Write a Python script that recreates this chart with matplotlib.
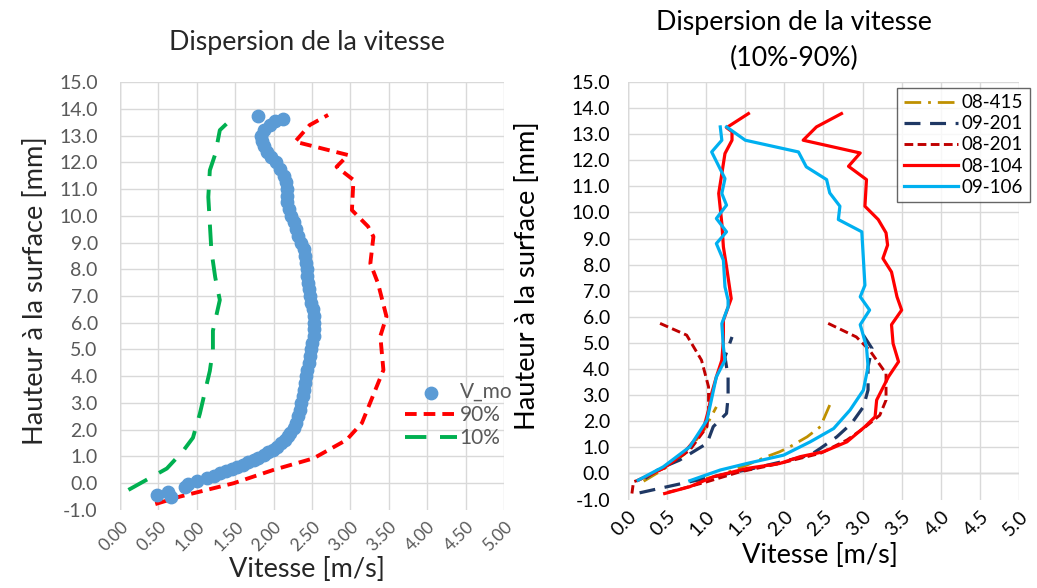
import numpy as np
import matplotlib
matplotlib.use("Agg")
import matplotlib.pyplot as plt

plt.rcParams['font.family'] = ['Lato', 'DejaVu Sans']

"""data for the left chart (read off the picture)"""
vmo_y = [-0.44, -0.32, -0.53, -0.13, -0.02, 0.10, 0.18, 0.28, 0.37, 0.46, 0.55, 0.62, 0.70, 0.78,
         0.87, 0.95, 1.05, 1.15, 1.25, 1.37, 1.49, 1.62, 1.75, 1.87, 2.05, 2.25, 2.5, 2.75, 3.0,
         3.25, 3.5, 3.75, 4.0, 4.25, 4.5, 4.75, 5.0, 5.25, 5.5, 5.75, 6.0, 6.25, 6.5, 6.75, 7.0,
         7.25, 7.5, 7.75, 8.0, 8.25, 8.5, 8.75, 9.0, 9.25, 9.5, 9.75, 10.0, 10.25, 10.5, 10.75,
         11.0, 11.25, 11.5, 11.75, 12.0, 12.2, 12.4, 12.6, 12.8, 13.0, 13.2, 13.4, 13.55, 13.62, 13.73]
vmo_x = [0.48, 0.63, 0.66, 0.85, 0.88, 1.00, 1.13, 1.22, 1.30, 1.38, 1.46, 1.52, 1.60, 1.67,
         1.74, 1.80, 1.87, 1.93, 1.99, 2.05, 2.10, 2.15, 2.19, 2.22, 2.26, 2.29, 2.32, 2.34, 2.36,
         2.38, 2.40, 2.41, 2.42, 2.44, 2.46, 2.48, 2.49, 2.50, 2.52, 2.52, 2.52, 2.52, 2.51, 2.49, 2.47,
         2.46, 2.45, 2.44, 2.43, 2.42, 2.41, 2.39, 2.36, 2.32, 2.29, 2.26, 2.23, 2.20, 2.18, 2.17,
         2.17, 2.16, 2.13, 2.08, 2.03, 1.96, 1.91, 1.88, 1.85, 1.84, 1.88, 1.95, 2.02, 2.12, 1.80]

p90_y = [-0.78, -0.5, 0.0, 0.5, 0.93, 1.62, 2.25, 4.23, 5.5, 6.23, 7.47, 8.22, 9.22, 9.6, 10.21,
         11.34, 11.83, 12.27, 12.77, 13.39, 13.77]
p90_x = [0.46, 0.78, 1.48, 2.0, 2.52, 2.95, 3.15, 3.43, 3.39, 3.47, 3.36, 3.26, 3.30, 3.23, 3.02,
         3.04, 2.82, 2.97, 2.28, 2.47, 2.71]

p10_y = [-0.25, 0.55, 1.2, 1.7, 2.6, 4.2, 5.0, 5.7, 6.85, 7.7, 8.7, 10.7, 11.7, 12.3, 13.2, 13.5]
p10_x = [0.11, 0.61, 0.82, 0.95, 1.04, 1.17, 1.21, 1.21, 1.30, 1.24, 1.19, 1.15, 1.17, 1.24, 1.30, 1.41]

"""data for the right chart: each profile has a 10% branch and a 90% branch"""
s415_lo_y = [-0.3, 0.15, 0.8, 1.7, 2.55]
s415_lo_x = [0.20, 0.45, 0.75, 0.98, 1.13]
s415_hi_y = [2.62, 1.79, 1.40, 1.02, 0.83, 0.64, 0.32, -0.07, -0.3]
s415_hi_x = [2.58, 2.46, 2.29, 2.07, 1.94, 1.77, 1.52, 1.18, 0.85]

s9201_lo_y = [-0.19, 0.19, 0.51, 1.15, 1.79, 2.30, 2.93, 3.70, 4.47, 5.23]
s9201_lo_x = [0.22, 0.41, 0.66, 1.01, 1.09, 1.26, 1.28, 1.28, 1.24, 1.33]
s9201_hi_y = [5.30, 4.79, 4.09, 3.2, 2.55, 1.92, 1.40, 0.96, 0.70, 0.19, -0.07, -0.32, -0.57, -0.77]
s9201_hi_x = [3.01, 3.12, 3.07, 3.07, 3.01, 2.86, 2.67, 2.46, 2.33, 1.60, 1.18, 0.79, 0.41, 0.11]

s8201_lo_y = [5.75, 5.30, 4.34, 3.32, 2.43, 1.79, 0.89, 0.19, -0.26, -0.32, -0.77]
s8201_lo_x = [0.41, 0.75, 0.94, 1.03, 1.03, 1.01, 0.79, 0.45, 0.13, 0.07, 0.05]
s8201_hi_y = [5.75, 5.23, 4.72, 3.83, 2.81, 2.23, 1.72, 1.28, 0.77, 0.51, 0.38, 0.06, -0.32, -0.64, -0.77]
s8201_hi_x = [2.56, 2.92, 3.09, 3.30, 3.30, 3.22, 3.01, 2.80, 2.46, 2.11, 1.94, 1.43, 1.01, 0.62, 0.45]

s8104_lo_y = [-0.26, 0.19, 0.77, 1.66, 2.43, 3.07, 3.70, 4.34, 5.11, 5.87, 6.7, 7.92, 8.68, 9.58,
              10.73, 11.49, 12.26, 12.77, 13.1, 13.25, 13.79]
s8104_lo_x = [0.13, 0.45, 0.71, 0.96, 1.03, 1.07, 1.13, 1.20, 1.22, 1.22, 1.32, 1.26, 1.22, 1.20,
              1.16, 1.20, 1.24, 1.33, 1.33, 1.26, 1.54]
s8104_hi_y = [13.79, 13.28, 12.77, 12.28, 11.77, 11.26, 10.24, 9.73, 9.22, 8.75, 8.24, 7.72, 6.77,
              6.26, 5.70, 4.98, 4.28, 3.70, 2.81, 2.17, 1.79, 1.21, 0.83, 0.64, 0.38, 0.19, -0.13, -0.51, -0.77]
s8104_hi_x = [2.73, 2.41, 2.24, 2.97, 2.82, 3.05, 3.03, 3.20, 3.30, 3.32, 3.26, 3.37, 3.44,
              3.50, 3.37, 3.39, 3.46, 3.33, 3.18, 3.16, 3.03, 2.80, 2.50, 2.20, 1.94, 1.52, 1.09, 0.79, 0.47]

s9106_lo_y = [-0.26, 0.25, 1.02, 2.04, 3.70, 4.34, 4.85, 5.74, 6.38, 6.64, 7.15, 8.17, 8.81, 9.26,
              9.77, 10.28, 10.73, 11.30, 12.32, 12.77, 13.28]
s9106_lo_x = [0.13, 0.45, 0.79, 1.01, 1.13, 1.24, 1.22, 1.20, 1.28, 1.28, 1.24, 1.22, 1.13, 1.26,
              1.13, 1.26, 1.20, 1.24, 1.07, 1.20, 1.18]
s9106_hi_y = [13.28, 12.77, 12.32, 11.75, 11.26, 10.75, 10.24, 9.73, 9.26, 8.24, 7.21, 6.77, 6.26,
              5.70, 4.85, 4.09, 3.19, 2.43, 1.72, 1.21, 0.70, 0.38, 0.13, -0.28]
s9106_hi_x = [1.26, 1.50, 2.18, 2.28, 2.54, 2.58, 2.71, 2.69, 2.99, 3.01, 3.03, 2.97, 3.09,
              2.97, 3.05, 3.07, 3.01, 2.84, 2.63, 2.33, 1.99, 1.52, 1.18, 0.79]

x_ticks = np.arange(0, 5.01, 0.5)
y_ticks = np.arange(-1, 15.01, 1)

grid_col = '#D9D9D9'


def setup_axes(ax, fmt, tick_col, ypad, xsize):
    """common look of both charts (Excel-like grid)"""
    ax.set_xlim(0, 5)
    ax.set_ylim(-1, 15)
    ax.set_xticks(x_ticks)
    ax.set_yticks(y_ticks)
    ax.set_xticklabels([fmt % v for v in x_ticks], rotation=45, ha='right',
                       rotation_mode='anchor', color=tick_col, fontsize=xsize)
    ax.set_yticklabels(['%.1f' % v for v in y_ticks], color=tick_col, fontsize=14)
    ax.tick_params(length=0)
    ax.tick_params(axis='y', pad=ypad)
    ax.tick_params(axis='x', pad=6)
    ax.grid(True, color=grid_col, linewidth=1.0)
    ax.set_axisbelow(True)
    for s in ax.spines.values():
        s.set_visible(False)
    ax.axvline(0, color='#BFBFBF', linewidth=1.0, zorder=0.5)
    ax.yaxis.get_gridlines()[0].set_visible(False)


fig = plt.figure(figsize=(10.37, 5.88), dpi=100)

"""left chart"""
ax1 = fig.add_axes([0.1157, 0.1327, 0.3703, 0.7278])
setup_axes(ax1, '%.2f', '#595959', 16, 12.5)
ax1.scatter(vmo_x, vmo_y, s=80, color='#5B9BD5', label='V_mo', zorder=3)
ax1.plot(p90_x, p90_y, color='#FF0000', linewidth=2.8, dashes=(3, 1.8), label='90%')
ax1.plot(p10_x, p10_y, color='#00B050', linewidth=2.8, dashes=(5.5, 3.5), label='10%')
ax1.legend(loc='upper left', bbox_to_anchor=(0.372, 0.382), bbox_transform=fig.transFigure,
           frameon=False, fontsize=15, handlelength=2.5, labelspacing=0.15,
           handletextpad=0.15, labelcolor='#595959')

fig.text(0.296, 0.928, 'Dispersion de la vitesse', ha='center', va='center', fontsize=19.3, color='#262626')
fig.text(0.034, 0.505, 'Hauteur à la surface [mm]', ha='center', va='center', rotation=90,
         fontsize=19.6, color='#262626')
fig.text(0.296, 0.031, 'Vitesse [m/s]', ha='center', va='center', fontsize=19.5, color='#262626')

"""right chart"""
ax2 = fig.add_axes([0.6056, 0.1505, 0.377, 0.71])
setup_axes(ax2, '%.1f', '#000000', 13, 14)
ax2.axhline(0, color='#BFBFBF', linewidth=1.0, zorder=0.5)

series = [
    ('08-415', s415_lo_x, s415_lo_y, s415_hi_x, s415_hi_y, '#BF9000', (6, 2.5, 1, 2.5), 2.0),
    ('09-201', s9201_lo_x, s9201_lo_y, s9201_hi_x, s9201_hi_y, '#1F3864', (5, 3), 2.3),
    ('08-201', s8201_lo_x, s8201_lo_y, s8201_hi_x, s8201_hi_y, '#C00000', (3, 1.5), 2.1),
    ('08-104', s8104_lo_x, s8104_lo_y, s8104_hi_x, s8104_hi_y, '#FF0000', None, 2.3),
    ('09-106', s9106_lo_x, s9106_lo_y, s9106_hi_x, s9106_hi_y, '#00B0F0', None, 2.3),
]
for name, lx, ly, hx, hy, col, dash, lw in series:
    kw = dict(color=col, linewidth=lw)
    if dash is not None:
        kw['dashes'] = dash
    ax2.plot(lx, ly, label=name, **kw)
    ax2.plot(hx, hy, **kw)

leg = ax2.legend(loc='upper right', bbox_to_anchor=(0.993, 0.851), bbox_transform=fig.transFigure,
                 frameon=True, fancybox=False, fontsize=13.5, handlelength=2.9,
                 labelspacing=0.22, handletextpad=0.2, borderpad=0.35, borderaxespad=0)
leg.get_frame().set_edgecolor('#404040')
leg.get_frame().set_linewidth(1.0)

fig.text(0.766, 0.962, 'Dispersion de la vitesse', ha='center', va='center', fontsize=19.3, color='#000000')
fig.text(0.766, 0.901, '(10%-90%)', ha='center', va='center', fontsize=19.3, color='#000000')
fig.text(0.509, 0.532, 'Hauteur à la surface [mm]', ha='center', va='center', rotation=90,
         fontsize=19.6, color='#000000')
fig.text(0.791, 0.056, 'Vitesse [m/s]', ha='center', va='center', fontsize=19.5, color='#000000')

plt.savefig('out.png', dpi=100)
